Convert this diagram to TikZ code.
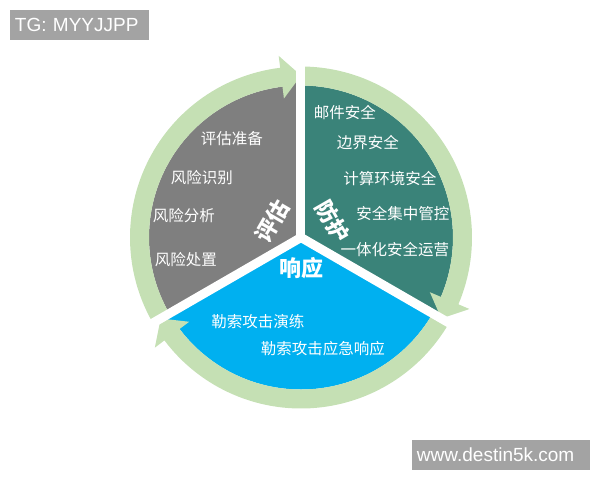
\documentclass[tikz,border=0pt]{standalone}
\usepackage{fontspec}
\setmainfont{Liberation Sans}
\newfontfamily\cjk{Noto Sans CJK SC}
\usepackage{tikz}
\usetikzlibrary{positioning}
\definecolor{segGray}{RGB}{127,127,127}
\definecolor{segTeal}{RGB}{58,131,121}
\definecolor{segBlue}{RGB}{0,176,240}
\definecolor{ringGreen}{RGB}{197,224,180}
\definecolor{tagGray}{RGB}{163,163,163}
\tikzset{item/.style={text=white, font=\cjk\fontsize{15.5}{18}\selectfont, inner sep=0pt}}
\tikzset{title/.style={text=white, font=\cjk\bfseries\fontsize{22}{24}\selectfont, inner sep=0pt}}
\tikzset{seam/.style={white, line width=9pt}}
\tikzset{tagbox/.style={fill=tagGray, text=white, font=\fontsize{19}{21}\selectfont,
  minimum height=30pt, inner xsep=5pt, inner ysep=0pt, align=left}}

\begin{document}
\begin{tikzpicture}[x=1pt,y=1pt]
  \useasboundingbox (-301,-242.5) rectangle (299,237.5);
% segments
  \fill[segGray] (0,0) -- (210:152pt) arc[start angle=210, end angle=97, radius=152pt]
    -- (90:162pt) -- cycle;
  \fill[ringGreen] (210:152pt) arc[start angle=210, end angle=97, radius=152pt]
    -- (97:140pt) -- (90:162pt) -- (97:183pt) -- (97:171pt)
    arc[start angle=97, end angle=210, radius=171pt] -- cycle;
  \fill[segTeal] (0,0) -- (90:152pt) arc[start angle=90, end angle=-23, radius=152pt]
    -- (-30:162pt) -- cycle;
  \fill[ringGreen] (90:152pt) arc[start angle=90, end angle=-23, radius=152pt]
    -- (-23:140pt) -- (-30:162pt) -- (-23:183pt) -- (-23:171pt)
    arc[start angle=-23, end angle=90, radius=171pt] -- cycle;
  \fill[segBlue] (0,0) -- (-30:152pt) arc[start angle=-30, end angle=-143, radius=152pt]
    -- (-150:162pt) -- cycle;
  \fill[ringGreen] (-30:152pt) arc[start angle=-30, end angle=-143, radius=152pt]
    -- (-143:140pt) -- (-150:162pt) -- (-143:183pt) -- (-143:171pt)
    arc[start angle=-143, end angle=-30, radius=171pt] -- cycle;
% gaps
  \draw[seam] (0,0) -- (90:195pt);
  \draw[seam] (0,0) -- (210:195pt);
  \draw[seam] (0,0) -- (-30:195pt);
% titles
  \node[title, rotate=60] (assess) at (-29,16.5) {评估};
  \node[title, rotate=-60] (protect) at (32,16.5) {防护};
  \node[title] (respond) at (1,-30.5) {响应};
% items
  \node[item] (prep) at (-69,98.5) {评估准备};
  \node[item] (ident) at (-99,59.5) {风险识别};
  \node[item] (analyse) at (-117,21.5) {风险分析};
  \node[item] (treat) at (-115,-22.5) {风险处置};
  \node[item] (mail) at (44,124.5) {邮件安全};
  \node[item] (border) at (67,94.5) {边界安全};
  \node[item] (compute) at (89,58.5) {计算环境安全};
  \node[item] (central) at (102,23.5) {安全集中管控};
  \node[item] (ops) at (94,-12.5) {一体化安全运营};
  \node[item] (drill) at (-43,-84.5) {勒索攻击演练};
  \node[item] (emerg) at (22,-111.5) {勒索攻击应急响应};
% tags
  \node[tagbox, text width=129pt] (tg) at (-221.5,212.5) {TG: MYYJJPP};
  \node[tagbox, text width=168pt] (site) at (200,-217.5) {www.destin5k.com};
\end{tikzpicture}
\end{document}
